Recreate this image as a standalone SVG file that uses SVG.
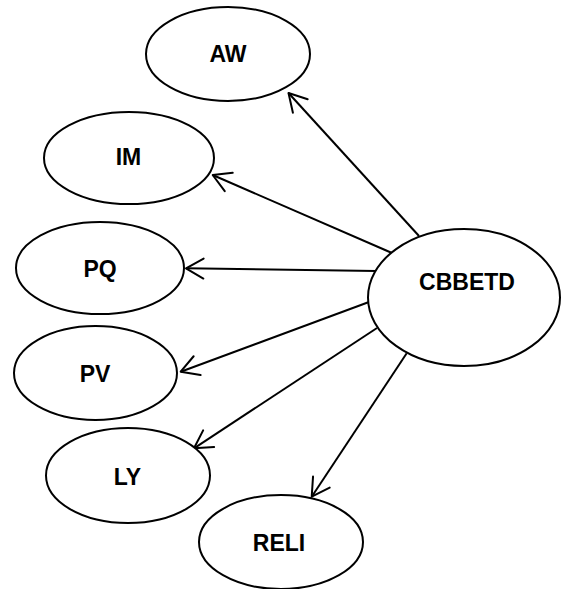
<svg xmlns="http://www.w3.org/2000/svg" width="561" height="589" viewBox="0 0 561 589">
  <style>
    .node ellipse { fill: #ffffff; stroke: #000000; stroke-width: 2; }
    .node text { font-family: "Liberation Sans", Arial, sans-serif; font-weight: bold; font-size: 23px; text-anchor: middle; fill: #000000; }
    .edges line { stroke: #000000; stroke-width: 2; marker-end: url(#open-arrow); }
  </style>
  <defs>
    <marker id="open-arrow" markerUnits="userSpaceOnUse" markerWidth="40" markerHeight="40" refX="0" refY="0" orient="auto" overflow="visible">
      <path d="M-17.5,-10 L0,0 L-17.5,10" fill="none" stroke="#000000" stroke-width="2" stroke-linejoin="round" stroke-linecap="round"/>
    </marker>
  </defs>

  <rect width="561" height="589" fill="#ffffff"/>

  <g id="edges" class="edges">
    <line x1="419" y1="236" x2="288.5" y2="93"/>
    <line x1="392" y1="253" x2="212.7" y2="175"/>
    <line x1="376" y1="271" x2="186" y2="268.3"/>
    <line x1="369" y1="302" x2="180.7" y2="371.7"/>
    <line x1="377" y1="328" x2="194" y2="448.3"/>
    <line x1="406.7" y1="353.3" x2="311.7" y2="496.7"/>
  </g>

  <g id="node-AW" class="node">
    <ellipse cx="228" cy="54" rx="82" ry="47"/>
    <text x="228" y="62">AW</text>
  </g>
  <g id="node-IM" class="node">
    <ellipse cx="129" cy="158" rx="85" ry="46"/>
    <text x="128.5" y="165">IM</text>
  </g>
  <g id="node-PQ" class="node">
    <ellipse cx="100" cy="268" rx="84" ry="46"/>
    <text x="100" y="276.5">PQ</text>
  </g>
  <g id="node-PV" class="node">
    <ellipse cx="95.5" cy="373" rx="81.5" ry="47"/>
    <text x="95" y="381.5">PV</text>
  </g>
  <g id="node-LY" class="node">
    <ellipse cx="128" cy="475.5" rx="82" ry="47.5"/>
    <text x="127.5" y="484.5">LY</text>
  </g>
  <g id="node-RELI" class="node">
    <ellipse cx="281" cy="542" rx="82" ry="47"/>
    <text x="279" y="551">RELI</text>
  </g>
  <g id="node-CBBETD" class="node">
    <ellipse cx="464" cy="297.5" rx="96" ry="68.5"/>
    <text x="467" y="290">CBBETD</text>
  </g>
</svg>
